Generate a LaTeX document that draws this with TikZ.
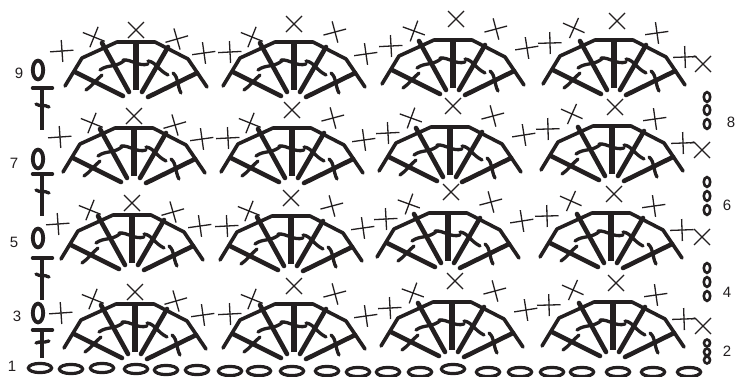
\documentclass[tikz,border=0pt]{standalone}
\usepackage{fontspec}
\setmainfont{Liberation Sans}
\definecolor{ink}{HTML}{231F20}
\tikzset{
  thinmark/.style={draw=ink,line width=1.3pt,line cap=butt},
  rim/.style={draw=ink,line width=3.6pt,line cap=round,line join=round},
  spoke/.style={draw=ink,line width=4.6pt,line cap=round},
  post/.style={draw=ink,line width=5.2pt,line cap=butt},
  tick/.style={draw=ink,line width=3.3pt,line cap=round},
  lab/.style={text=ink,font=\fontsize{15}{15}\selectfont,inner sep=0pt},
  bigzero/.style={draw=ink,line width=3.8pt},
  smallzero/.style={draw=ink,line width=2.6pt},
  chainlink/.style={draw=ink,line width=3.2pt},
  stem/.style={draw=ink,line width=3.4pt,line cap=round},
}
\newcommand{\plusmark}[3]{\begin{scope}[shift={(#1,#2)},rotate=#3]
  \draw[thinmark] (-12,0) -- (11.5,0);
  \draw[thinmark] (0,-11) -- (0,11);
\end{scope}}
\newcommand{\xmark}[2]{\begin{scope}[shift={(#1,#2)}]
  \draw[thinmark] (-8,-8) -- (8,8);
  \draw[thinmark] (8,-8) -- (-8,8);
\end{scope}}
\newcommand{\fanshape}{%
  \draw[rim] (-71,44) -- (-54,16) -- (-19,0) -- (19,0) -- (52,17) -- (71,45);
  \draw[post] (0,0) -- (0,48);
  \draw[spoke] (-34,1) -- (-7,50);
  \draw[spoke] (32,5) -- (6,50);
  \draw[spoke] (-61,30) -- (-13,54);
  \draw[spoke] (61,31) -- (12,55);
  \draw[tick] (-36,28) .. controls (-28,22) and (-20,26) .. (-11,18);
  \draw[tick] (-13,18) .. controls (-5,17) and (3,25) .. (12,22);
  \draw[tick] (12,19) .. controls (20,20) and (22,28) .. (32,33);
  \draw[tick] (-50,48) .. controls (-44,44) and (-40,38) .. (-34,33);
  \draw[tick] (37,31) .. controls (43,36) and (41,44) .. (45,51);
}
\newcommand{\stemmark}[4]{% bar y, end y, tick y, tick slope
  \draw[stem] (32.5,#1) -- (52.5,#1);
  \draw[post,line width=3.8pt] (42,#1) -- (42,#2);
  \draw[tick] (36,#3) .. controls (40,{#3+#4}) and (44,#3) .. (49,{#3+#4});
}
\begin{document}
\begin{tikzpicture}[x=1pt,y=-1pt]
\useasboundingbox (0,0) rectangle (735,376);
\fill[white] (0,0) rectangle (735,376);
% fans, column 1
\foreach \cx/\cy in {136/42,134/128,132/215,135/304}{
  \begin{scope}[shift={(\cx,\cy)}]
    \fanshape
    \xmark{0}{-12}
    \plusmark{-74}{9}{4}
    \plusmark{-42}{-5}{-22}
    \plusmark{41}{-3}{16}
    \plusmark{68}{11}{8}
  \end{scope}
}
% column 2
\foreach \cx/\cy in {294/42,292/128,291/216,294/304}{
  \begin{scope}[shift={(\cx,\cy)}]
    \fanshape
    \xmark{0}{-18}
    \plusmark{-64}{10}{3}
    \plusmark{-42}{-5}{-22}
    \plusmark{41}{-10}{15}
    \plusmark{72}{12}{8}
  \end{scope}
}
% column 3
\foreach \cx/\cy in {453/40,450/127,448/213,452/302}{
  \begin{scope}[shift={(\cx,\cy)}]
    \fanshape
    \xmark{3}{-21}
    \plusmark{-62}{6}{3}
    \plusmark{-39}{-9}{-20}
    \plusmark{43}{-11}{15}
    \plusmark{74}{8}{9}
  \end{scope}
}
% column 4
\foreach \cx/\cy in {614/40,612/126,611/213,613/302}{
  \begin{scope}[shift={(\cx,\cy)}]
    \fanshape
    \xmark{3}{-19}
    \plusmark{-64}{3}{1.5}
    \plusmark{-40}{-12}{-24}
    \plusmark{43}{-7}{8}
    \plusmark{71}{17}{2}
  \end{scope}
}
% right crosses with their joins
\xmark{703}{64}
\xmark{702}{150}
\xmark{702}{237}
\xmark{703}{326}
\draw[thinmark] (692,57) -- (695,56);
\draw[thinmark] (690,143) -- (694,142);
\draw[thinmark] (691,319) -- (695,318);
% left column ovals
\foreach \zy in {70,159,238,313}{
  \draw[bigzero] (38,\zy) ellipse [x radius=5.2,y radius=9.4];
}
% left column stems
\stemmark{88}{130}{104}{3}
\stemmark{174}{216}{190}{3}
\stemmark{258}{300}{274}{3}
\stemmark{330}{358}{343}{-2}
% right column small ovals
\foreach \zy in {97,110,124,182,196,210,268,282,296}{
  \draw[smallzero] (707,\zy) ellipse [x radius=3.2,y radius=4.9];
}
\foreach \zy in {343,352,360}{
  \draw[smallzero] (707,\zy) ellipse [x radius=3,y radius=3.5];
}
% base chain
\foreach \lx/\ly in {40/368,71/369,102/368,136/369,166/370,197/370,230/371,259/371,292/371,327/371,358/372,388/372,420/372,453/369,488/372,520/372,552/372,582/372,618/372,653/372,689/372}{
  \draw[chainlink] (\lx,\ly) ellipse [x radius=11.6,y radius=4.6];
}
% labels
\node[lab] (n9) at (19,73) {9};
\node[lab] (n7) at (14,163) {7};
\node[lab] (n5) at (14,242) {5};
\node[lab] (n3) at (17,316) {3};
\node[lab] (n1) at (12,366) {1};
\node[lab] (n8) at (731,122) {8};
\node[lab] (n6) at (727,205) {6};
\node[lab] (n4) at (727,292) {4};
\node[lab] (n2) at (727,351) {2};
\end{tikzpicture}
\end{document}
